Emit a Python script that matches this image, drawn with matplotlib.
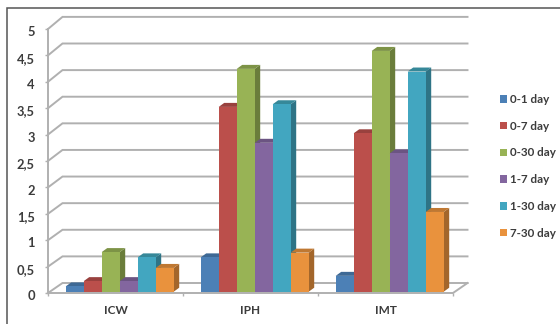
import matplotlib
matplotlib.use("Agg")
import matplotlib.pyplot as plt
from matplotlib.patches import Polygon, Patch
from matplotlib.lines import Line2D
from matplotlib.transforms import ScaledTranslation
import numpy as np

categories = ["ICW", "IPH", "IMT"]
series_names = ["0-1 day", "0-7 day", "0-30 day", "1-7 day", "1-30 day", "7-30 day"]
v_0_1 = [0.1, 0.65, 0.3]
v_0_7 = [0.2, 3.5, 3.0]
v_0_30 = [0.75, 4.22, 4.56]
v_1_7 = [0.2, 2.82, 2.62]
v_1_30 = [0.65, 3.55, 4.17]
v_7_30 = [0.45, 0.74, 1.51]
series_values = [v_0_1, v_0_7, v_0_30, v_1_7, v_1_30, v_7_30]
y_ticks = [0, 0.5, 1, 1.5, 2, 2.5, 3, 3.5, 4, 4.5, 5]
y_labels = ["0", "0,5", "1", "1,5", "2", "2,5", "3", "3,5", "4", "4,5", "5"]

front = ["#4c80b6", "#bb4f4b", "#98b355", "#83669f", "#42a6c0", "#e9923d"]
side = ["#35597f", "#833734", "#6a7d3b", "#5b476f", "#2e7486", "#a3662b"]
top = ["#3e6995", "#99413e", "#7d9346", "#6b5482", "#368899", "#bf7832"]

W, H = 560, 324
plt.rcParams["font.family"] = ["Lato", "DejaVu Sans"]
fig = plt.figure(figsize=(W / 100, H / 100), dpi=100)
fig.patch.set_facecolor("white")

L, R, T0, B0 = 48, 453, 29, 293
ax = fig.add_axes([L / W, 1 - B0 / H, (R - L) / W, (B0 - T0) / H])
ax.set_xlim(0, 3)
ax.set_ylim(0, 5)
ax.patch.set_alpha(0)
for s in ax.spines.values():
    s.set_visible(False)
ax.set_axisbelow(True)

px_x = 3 / (R - L)
px_y = 5 / (B0 - T0)
grid_c = "#b0b0b0"
back_dx = 14.5 * px_x
back_dy0 = 10 * px_y
back_k = 1.008


def back(v):
    return v * back_k + back_dy0


for v in y_ticks:
    ax.plot([0, back_dx, 3 + back_dx], [v, back(v), back(v)], color=grid_c, lw=1.4,
            clip_on=False, zorder=1, solid_joinstyle="miter")
ax.plot([0, 0], [0, 5], color=grid_c, lw=1.4, clip_on=False, zorder=1)
ax.plot([0, 3, 3 + back_dx], [0, 0, back(0)], color=grid_c, lw=1.4, clip_on=False, zorder=1)

ax.set_xticks([0, 1, 2, 3])
ax.set_xticklabels([])
ax.set_xticks([0.5, 1.5, 2.5], labels=categories, minor=True)
ax.tick_params(axis="x", which="major", length=2.5, color=grid_c, width=1)
ax.tick_params(axis="x", which="minor", length=0, pad=9, labelsize=8.5,
               labelcolor="#3c3c3c")
ax.set_yticks(y_ticks, labels=y_labels)
ax.tick_params(axis="y", length=2.5, color=grid_c, width=1, pad=7, labelsize=9.3,
               labelcolor="#3c3c3c")
shift = ScaledTranslation(0, -2.2 / 100, fig.dpi_scale_trans)
for t in ax.get_yticklabels():
    t.set_fontweight("bold")
    t.set_transform(t.get_transform() + shift)
for t in ax.get_xticklabels(minor=True):
    t.set_fontweight("bold")

bw = 18 * px_x
base = 1.3 * px_y
ddx = 5.5 * px_x
ddy = 4 * px_y
group_left = (np.array([65.7, 200.7, 335.7]) - L) * px_x

z = 3
for i in range(len(series_values)):
    for g, val in enumerate(series_values[i]):
        x0 = group_left[g] + i * bw
        x1 = x0 + bw
        y1 = val + base
        ax.add_patch(Polygon([(x1, base), (x1 + ddx, base + ddy), (x1 + ddx, y1 + ddy), (x1, y1)],
                             closed=True, fc=side[i], ec="none", zorder=z, clip_on=False))
        ax.add_patch(Polygon([(x0, y1), (x0 + ddx, y1 + ddy), (x1 + ddx, y1 + ddy), (x1, y1)],
                             closed=True, fc=top[i], ec="none", zorder=z, clip_on=False))
        ax.bar(x0, val, bw, bottom=base, align="edge", color=front[i], zorder=z + 0.1, clip_on=False)
    z += 1

handles = [Patch(fc=c, ec="none") for c in front]
leg = fig.legend(handles, series_names, loc="upper left",
                 bbox_to_anchor=(500 / W, 1 - 94 / H), frameon=False,
                 prop={"size": 8.4, "weight": "bold"}, labelcolor="#3c3c3c",
                 handlelength=0.6, handleheight=0.6, handletextpad=0.25,
                 labelspacing=1.35, borderpad=0, borderaxespad=0)

fig.add_artist(Line2D([7 / W, 7 / W, 1], [0, 1 - 7.5 / H, 1 - 7.5 / H], color="#555555", lw=1.1,
                      solid_joinstyle="miter"))

fig.savefig("out.png", dpi=100)
